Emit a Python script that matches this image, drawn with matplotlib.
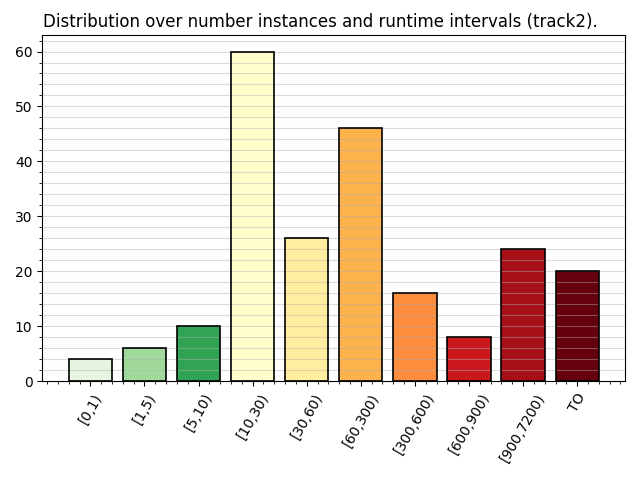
import matplotlib
matplotlib.use("Agg")
import matplotlib.pyplot as plt
from matplotlib.ticker import MultipleLocator, AutoMinorLocator

categories = ["[0,1)", "[1,5)", "[5,10)", "[10,30)", "[30,60)", "[60,300)",
              "[300,600)", "[600,900)", "[900,7200)", "TO"]
counts = [4, 6, 10, 60, 26, 46, 16, 8, 24, 20]
colors = ["#e5f5e0", "#a1d99b", "#31a354", "#ffffcc", "#ffeda0", "#feb24c",
          "#fd8d3c", "#cb181d", "#a50f15", "#67000d"]

fig = plt.figure(figsize=(6.4, 4.8), dpi=100)
ax = fig.add_axes([0.066, 0.206, 0.911, 0.721])
x = list(range(len(categories)))
ax.bar(x, counts, width=0.8, color=colors, linewidth=0, zorder=1)
ax.bar(x, counts, width=0.8, facecolor="none", edgecolor="black", linewidth=1.2, zorder=3)
ax.yaxis.set_major_locator(MultipleLocator(10))
ax.yaxis.set_minor_locator(MultipleLocator(2))
ax.grid(axis="y", which="both", color="#b0b0b0", alpha=0.45, linewidth=0.8, zorder=2)
ax.set_axisbelow(False)
ax.set_xticks(x)
ax.set_xticklabels(categories, rotation=60, fontsize=10)
ax.xaxis.set_minor_locator(AutoMinorLocator(5))
ax.tick_params(axis="y", labelsize=10)
fig.text(0.5, 0.955, "Distribution over number instances and runtime intervals (track2).",
         ha="center", va="center", fontsize=12)
fig.savefig("out.png", dpi=100)
